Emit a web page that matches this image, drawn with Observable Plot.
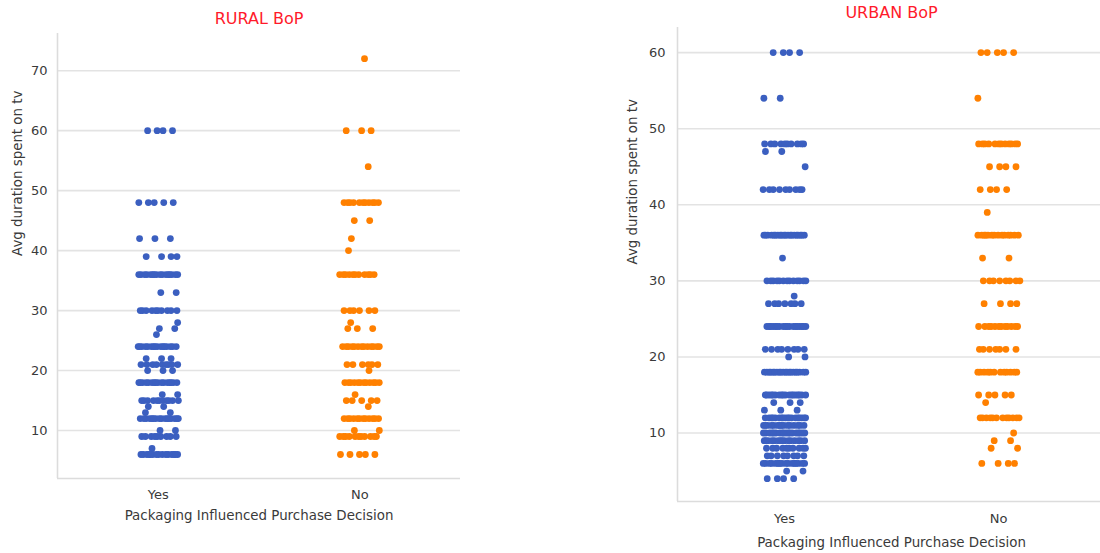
<!DOCTYPE html>
<html>
<head>
<meta charset="utf-8">
<script src="https://cdn.jsdelivr.net/npm/d3@7"></script>
<script src="https://cdn.jsdelivr.net/npm/@observablehq/plot@0.6"></script>
<style>
  html, body { margin: 0; padding: 0; background: #fff; overflow: hidden; width: 1100px; height: 553px; position: relative; }
  #left, #right { position: absolute; top: 0; }
  #left { left: 0; width: 470px; }
  #right { left: 590px; width: 520px; }
  svg { max-width: none !important; }
</style>
</head>
<body>
<div id="left"></div>
<div id="right"></div>
<script>
const categories = ["Yes", "No"];
const yTicksRural = [10, 20, 30, 40, 50, 60, 70];
const yTicksUrban = [10, 20, 30, 40, 50, 60];

// RURAL BoP – distinct values and how many dots sit at each
const ruralYesValues = [60, 48, 42, 39, 36, 33, 30, 28, 27, 26, 24, 22, 21, 20, 18, 16, 15, 14, 13, 12, 10, 9, 7, 6];
const ruralYesCounts = [ 4,  5,  3,  4, 16,  2, 10,  1,  2,  1, 16,  3,  9,  3, 16,  2, 11,  2,  2, 16,  2, 9, 1, 15];
const ruralNoValues  = [72, 60, 54, 48, 45, 42, 40, 36, 30, 28, 27, 24, 21, 20, 18, 16, 15, 14, 12, 10, 9, 6];
const ruralNoCounts  = [ 1,  3,  1, 11,  2,  1,  1, 11,  6,  1,  3, 13,  6,  1, 12,  1,  5,  1, 12,  2, 11, 5];

// URBAN BoP
const urbanYesValues = [60, 54, 48, 47, 45, 42, 36, 33, 30, 28, 27, 24, 21, 20, 18, 15, 14, 13, 12, 11, 10, 9, 8, 7, 6, 5, 4];
const urbanYesCounts = [ 4,  2, 10,  2,  1,  9, 20,  1, 13,  1,  7, 18,  8,  2, 20, 18,  3,  3, 18, 15, 18, 15, 10, 8, 16, 2, 4];
const urbanNoValues  = [60, 54, 48, 45, 42, 39, 36, 33, 30, 27, 24, 21, 18, 15, 14, 12, 10, 9, 8, 6];
const urbanNoCounts  = [ 5,  1, 12,  4,  4,  1, 14,  2,  8,  4, 12,  7, 12,  5,  1, 12,  1, 2, 2, 4];

const blue = "#3b5fc0";
const orange = "#ff8000";

function expand(cat, values, counts) {
  const rows = [];
  let k = 0;
  values.forEach((v, i) => {
    for (let c = 0; c < counts[i]; c++) {
      k++;
      // deterministic strip jitter (layout only)
      const j = (((k * 0.6180339887 + i * 0.31) % 1) - 0.5) * 0.2;
      rows.push({cat, idx: categories.indexOf(cat), value: v, jit: j});
    }
  });
  return rows;
}

function panel({title, rows, yDomain, yTicks, width, height, mt, mb, ml, mr, yPad, xPad, xTitleDy, yTitleDx}) {
  return Plot.plot({
    width, height,
    marginTop: mt, marginBottom: mb, marginLeft: ml, marginRight: mr,
    style: {fontFamily: "DejaVu Sans, sans-serif", fontSize: "13px", color: "#333", background: "#fff"},
    x: {domain: [-0.5, 1.5], axis: null},
    y: {domain: yDomain, axis: null},
    color: {domain: categories, range: [blue, orange]},
    marks: [
      Plot.gridY(yTicks, {stroke: "#e3e3e3", strokeOpacity: 1, strokeWidth: 1.6}),
      Plot.ruleX([-0.5], {stroke: "#dcdcdc", strokeWidth: 1.6}),
      Plot.ruleY([yDomain[0]], {stroke: "#dcdcdc", strokeWidth: 1.6}),
      Plot.axisY(yTicks, {tickSize: 0, tickPadding: yPad, label: null, fill: "#3a3a3a", fontSize: 13}),
      Plot.axisX([0, 1], {tickSize: 0, tickPadding: xPad, label: null, tickFormat: i => categories[i], fill: "#3a3a3a", fontSize: 13}),
      Plot.dot(rows, {x: d => d.idx + d.jit, y: "value", fill: "cat", r: 3.4, stroke: null}),
      Plot.text([title], {frameAnchor: "top", lineAnchor: "middle", dy: -15, fill: "#ff1a2a", fontSize: 16}),
      Plot.text(["Avg duration spent on tv"], {frameAnchor: "left", lineAnchor: "middle", dx: yTitleDx, rotate: -90, fill: "#3a3a3a", fontSize: 13.4}),
      Plot.text(["Packaging Influenced Purchase Decision"], {frameAnchor: "bottom", lineAnchor: "middle", dy: xTitleDy, fill: "#3a3a3a", fontSize: 13.4})
    ]
  });
}

const ruralRows = [...expand("Yes", ruralYesValues, ruralYesCounts), ...expand("No", ruralNoValues, ruralNoCounts)];
const urbanRows = [...expand("Yes", urbanYesValues, urbanYesCounts), ...expand("No", urbanNoValues, urbanNoCounts)];

document.getElementById("left").append(panel({
  title: "RURAL BoP", rows: ruralRows, yDomain: [2, 76.2], yTicks: yTicksRural,
  width: 470, height: 553, mt: 33, mb: 75, ml: 57, mr: 10, yPad: 10, xPad: 11, xTitleDy: 37, yTitleDx: -40
}));
document.getElementById("right").append(panel({
  title: "URBAN BoP", rows: urbanRows, yDomain: [1, 63.3], yTicks: yTicksUrban,
  width: 520, height: 553, mt: 27, mb: 52, ml: 87, mr: 5, yPad: 12, xPad: 12, xTitleDy: 41, yTitleDx: -45
}));
</script>
</body>
</html>
